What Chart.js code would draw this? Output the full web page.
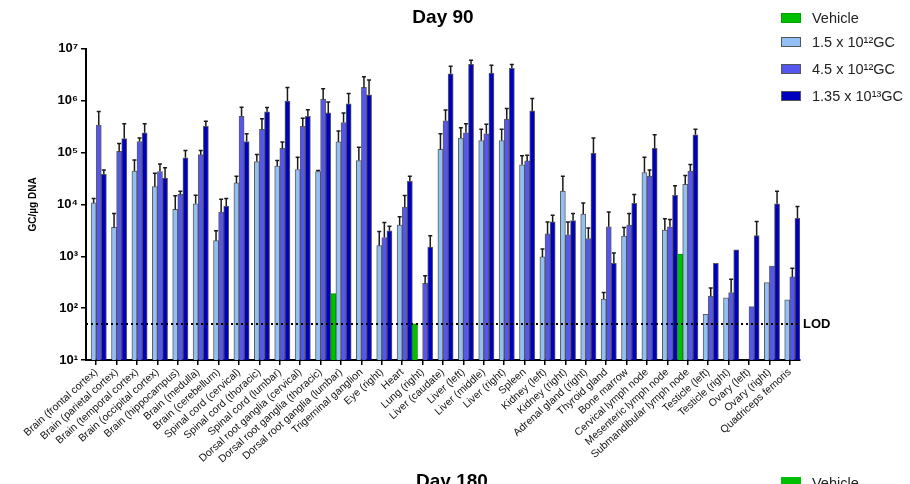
<!DOCTYPE html>
<html>
<head>
<meta charset="utf-8">
<script src="https://cdn.jsdelivr.net/npm/chart.js@4.4.1/dist/chart.umd.min.js"></script>
<style>
  html, body { margin: 0; padding: 0; background: #fff; }
  canvas { display: block; }
</style>
</head>
<body>
<canvas id="grafico" width="910" height="484"></canvas>
<script>
// --- DATOS (Day 90) ---
const tejidos = [
    'Brain (frontal cortex)', 'Brain (parietal cortex)', 'Brain (temporal cortex)', 'Brain (occipital cortex)',
    'Brain (hippocampus)', 'Brain (medulla)', 'Brain (cerebellum)', 'Spinal cord (cervical)',
    'Spinal cord (thoracic)', 'Spinal cord (lumbar)', 'Dorsal root ganglia (cervical)', 'Dorsal root ganglia (thoracic)',
    'Dorsal root ganglia (lumbar)', 'Trigeminal ganglion', 'Eye (right)', 'Heart', 'Lung (right)',
    'Liver (caudate)', 'Liver (left)', 'Liver (middle)', 'Liver (right)', 'Spleen', 'Kidney (left)',
    'Kidney (right)', 'Adrenal gland (right)', 'Thyroid gland', 'Bone marrow', 'Cervical lymph node',
    'Mesenteric lymph node', 'Submandibular lymph node', 'Testicle (left)', 'Testicle (right)',
    'Ovary (left)', 'Ovary (right)', 'Quadriceps femoris'
];

const series = ['Vehicle', '1.5 x 10¹²GC', '4.5 x 10¹²GC', '1.35 x 10¹³GC'];

const vehicle = [null, null, null, null, null, null, null, null, null, null, null, null,
    190, null, null, null, 50, null, null, null, null, null, null, null, null, null, null, null,
    null, 1100, null, null, null, null, null];
const vehicleErr = tejidos.map(() => null);

const dosisBaja = [1.07e4, 3.6e3, 4.4e4, 2.2e4, 8.0e3, 1.03e4, 2.0e3, 2.6e4, 6.7e4, 5.5e4, 4.7e4, 4.3e4,
    1.6e5, 7.0e4, 1.6e3, 4.0e3, null, 1.15e5, 1.9e5, 1.7e5, 1.7e5, 5.8e4, 970, 1.8e4, 6.5e3, 150,
    2450, 4.1e4, 3.2e3, 2.45e4, 76, 158, null, 310, 145];
const dosisBajaErr = [1.3e4, 6.7e3, 7.2e4, 4.0e4, 1.47e4, 1.5e4, 3.1e3, 3.5e4, 9.2e4, 7.0e4, 8.1e4, 4.5e4,
    2.6e5, 1.26e5, 3.0e3, 5.8e3, null, 2.3e5, 3.0e5, 2.8e5, 2.8e5, 8.7e4, 1380, 3.5e4, 1.07e4, 200,
    3600, 8.1e4, 5.3e3, 3.6e4, null, null, null, null, null];

const dosisMedia = [3.4e5, 1.05e5, 1.63e5, 4.3e4, 1.56e4, 9.1e4, 7.1e3, 5.0e5, 2.8e5, 1.2e5, 3.2e5, 1.07e6,
    3.8e5, 1.8e6, 2.3e3, 8.9e3, 300, 4.1e5, 2.4e5, 2.3e5, 4.4e5, 6.9e4, 2.7e3, 2.6e3, 2.2e3, 3.7e3,
    4.0e3, 3.5e4, 3.7e3, 4.4e4, 170, 200, 107, 650, 400];
const dosisMediaErr = [6.2e5, 1.5e5, 1.9e5, 6.0e4, 1.8e4, 1.1e5, 1.26e4, 7.5e5, 4.5e5, 1.6e5, 4.6e5, 1.7e6,
    5.8e5, 2.9e6, 4.5e3, 1.48e4, 420, 6.6e5, 3.6e5, 3.5e5, 7.1e5, 8.9e4, 4.6e3, 4.6e3, 3.5e3, 7.1e3,
    6.7e3, 4.6e4, 5.1e3, 5.9e4, 245, 360, null, null, 590];

const dosisAlta = [3.8e4, 1.86e5, 2.4e5, 3.2e4, 7.9e4, 3.2e5, 9.3e3, 1.63e5, 6.1e5, 9.8e5, 5.0e5, 5.8e5,
    8.7e5, 1.3e6, 3.1e3, 2.8e4, 1.5e3, 3.3e6, 5.0e6, 3.4e6, 4.2e6, 6.4e5, 4.6e3, 4.9e3, 9.6e4, 730,
    1.05e4, 1.2e5, 1.5e4, 2.2e5, 730, 1330, 2500, 1.03e4, 5400];
const dosisAltaErr = [4.6e4, 3.6e5, 3.6e5, 5.1e4, 1.1e5, 4.0e5, 1.3e4, 2.3e5, 7.4e5, 1.8e6, 6.7e5, 9.4e5,
    1.38e6, 2.5e6, 3.8e3, 3.5e4, 2.5e3, 4.6e6, 6.0e6, 4.8e6, 5.0e6, 1.1e6, 6.2e3, 6.7e3, 1.9e5, 1150,
    1.55e4, 2.2e5, 2.3e4, 2.8e5, null, null, 4700, 1.8e4, 9100];

const valoresY = [1e1, 1e2, 1e3, 1e4, 1e5, 1e6, 1e7];
const etiquetasY = ['10¹', '10²', '10³', '10⁴', '10⁵', '10⁶', '10⁷'];
const lod = 50;

const colores = ['#00bf00', '#92c0f5', '#5555f0', '#0000bf'];
const errores = [vehicleErr, dosisBajaErr, dosisMediaErr, dosisAltaErr];
const fuente = "'Liberation Sans', Arial, sans-serif";

// --- PLUGIN: barras de error, LOD y leyenda ---
const extras = {
    id: 'extras',
    afterDatasetsDraw(chart) {
        const ctx = chart.ctx;
        const y = chart.scales.y;
        const area = chart.chartArea;

        ctx.save();
        ctx.strokeStyle = '#1a1a1a';
        ctx.lineWidth = 1.5;
        errores.forEach((errs, i) => {
            const meta = chart.getDatasetMeta(i);
            meta.data.forEach((bar, j) => {
                const e = errs[j];
                if (e == null) return;
                const yTop = y.getPixelForValue(e);
                ctx.beginPath();
                ctx.moveTo(bar.x, bar.y);
                ctx.lineTo(bar.x, yTop);
                ctx.moveTo(bar.x - 2, yTop);
                ctx.lineTo(bar.x + 2, yTop);
                ctx.stroke();
            });
        });

        // linea LOD punteada
        const yLod = Math.round(y.getPixelForValue(lod));
        ctx.strokeStyle = '#000';
        ctx.lineWidth = 2;
        ctx.setLineDash([2, 3]);
        ctx.beginPath();
        ctx.moveTo(area.left, yLod);
        ctx.lineTo(area.right, yLod);
        ctx.stroke();
        ctx.setLineDash([]);

        ctx.fillStyle = '#000';
        ctx.font = 'bold 13px ' + fuente;
        ctx.textBaseline = 'middle';
        ctx.fillText('LOD', area.right + 3, yLod);
        ctx.restore();
    },
    afterDraw(chart) {
        const ctx = chart.ctx;
        ctx.save();
        // leyenda arriba a la derecha
        const filas = [18, 42, 69, 96];
        ctx.font = '14.5px ' + fuente;
        ctx.textBaseline = 'middle';
        series.forEach((nombre, i) => {
            ctx.fillStyle = colores[i];
            ctx.fillRect(781, filas[i] - 5, 20, 10);
            ctx.strokeStyle = i === 0 ? '#00a000' : '#555';
            ctx.lineWidth = 1;
            ctx.strokeRect(781.5, filas[i] - 4.5, 19, 9);
            ctx.fillStyle = '#222';
            ctx.fillText(nombre, 812, filas[i] + 1);
        });

        // comienzo del siguiente panel (Day 180), cortado
        ctx.fillStyle = '#000';
        ctx.font = 'bold 19px ' + fuente;
        ctx.textAlign = 'center';
        ctx.textBaseline = 'alphabetic';
        ctx.fillText('Day 180', 452, 487);
        ctx.textAlign = 'left';
        ctx.fillStyle = colores[0];
        ctx.fillRect(781, 477, 20, 10);
        ctx.fillStyle = '#222';
        ctx.font = '14.5px ' + fuente;
        ctx.fillText('Vehicle', 812, 488);
        ctx.restore();
    }
};

const datasets = [vehicle, dosisBaja, dosisMedia, dosisAlta].map((d, i) => ({
    label: series[i],
    data: d,
    backgroundColor: colores[i],
    borderColor: i === 0 ? '#009000' : 'rgba(40,40,40,0.75)',
    borderWidth: 1,
    categoryPercentage: 1,
    barPercentage: 1
}));

new Chart(document.getElementById('grafico'), {
    type: 'bar',
    data: { labels: tejidos, datasets: datasets },
    plugins: [extras],
    options: {
        responsive: false,
        animation: false,
        layout: { padding: { left: 0, right: 110, top: 0, bottom: 0 } },
        plugins: {
            legend: { display: false },
            tooltip: { enabled: false },
            title: {
                display: true,
                text: 'Day 90',
                fullSize: false,
                color: '#000',
                font: { family: fuente, size: 19, weight: 'bold' },
                padding: { top: 6, bottom: 20 }
            }
        },
        scales: {
            x: {
                offset: true,
                grid: { display: true, drawOnChartArea: false, offset: false, tickLength: 5, color: '#000', lineWidth: 1.5 },
                border: { color: '#000', width: 2 },
                ticks: {
                    autoSkip: false,
                    minRotation: 42,
                    maxRotation: 42,
                    padding: 1,
                    color: '#111',
                    font: { family: fuente, size: 10.5 }
                },
                afterFit(scale) { scale.height = 124; }
            },
            y: {
                type: 'logarithmic',
                min: 10,
                max: 1e7,
                grid: { display: true, drawOnChartArea: false, tickLength: 5, color: '#000', lineWidth: 1.5 },
                border: { color: '#000', width: 2 },
                afterBuildTicks(scale) { scale.ticks = valoresY.map(v => ({ value: v })); },
                ticks: {
                    color: '#000',
                    padding: 3,
                    font: { family: fuente, size: 13, weight: 'bold' },
                    callback: (v) => {
                        const k = valoresY.indexOf(v);
                        return k >= 0 ? etiquetasY[k] : '';
                    }
                },
                title: {
                    display: true,
                    text: 'GC/µg DNA',
                    color: '#000',
                    font: { family: fuente, size: 10, weight: 'bold' },
                    padding: { top: 27, bottom: 0 }
                },
                afterFit(scale) { scale.width = 86; }
            }
        }
    }
});
</script>
</body>
</html>
